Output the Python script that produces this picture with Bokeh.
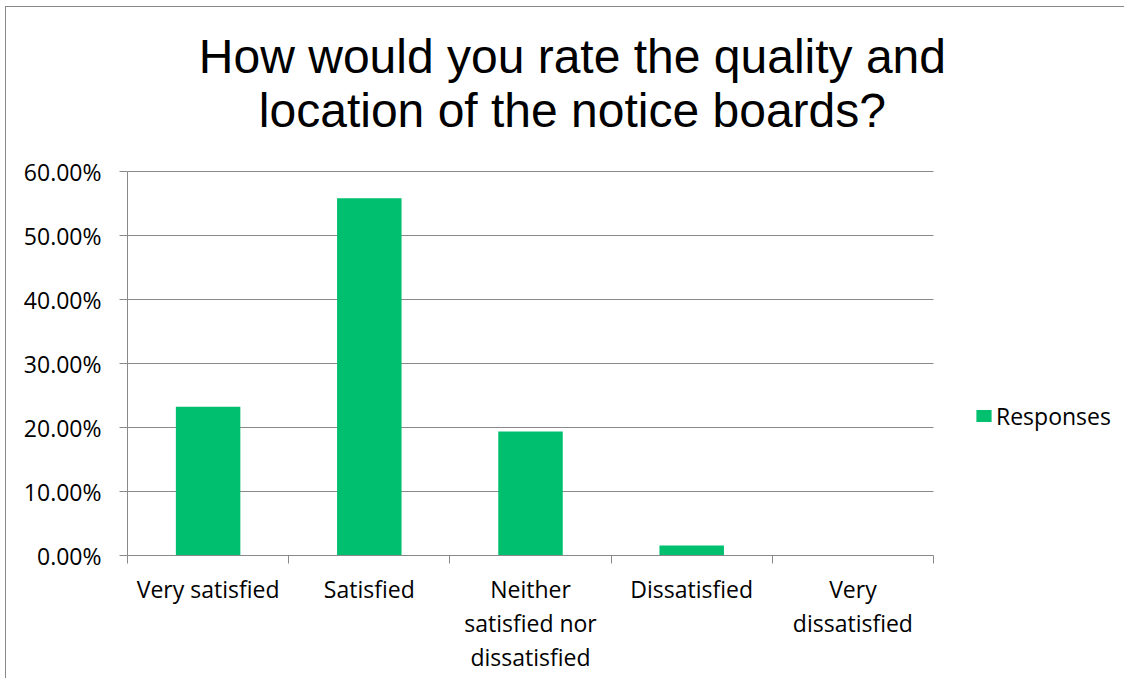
from bokeh.plotting import figure
from bokeh.models import (Range1d, FixedTicker, NumeralTickFormatter,
                          Legend, LegendItem, ColumnDataSource, LinearAxis, Label)
from bokeh.embed import file_html
from bokeh.resources import INLINE

categories = ["Very satisfied", "Satisfied", "Neither satisfied nor dissatisfied",
              "Dissatisfied", "Very dissatisfied"]
# wrapped category labels, one list per text line
label_line1 = ["Very satisfied", "Satisfied", "Neither", "Dissatisfied", "Very"]
label_line2 = ["", "", "satisfied nor", "", "dissatisfied"]
label_line3 = ["", "", "dissatisfied", "", ""]
responses = [0.2326, 0.5581, 0.1938, 0.0155, 0.0]
y_ticks = [0.0, 0.1, 0.2, 0.3, 0.4, 0.5, 0.6]
title_lines = ["How would you rate the quality and", "location of the notice boards?"]
series_name = "Responses"

GREEN = "#00BF6F"
GRAY = "#898989"
FONT = "Open Sans"
FS = "23px"

n = len(categories)
y_max = y_ticks[-1]
centers = [i + 0.5 for i in range(n)]       # category slot centres
bounds = [float(i) for i in range(n + 1)]   # category slot boundaries

# the frame is larger than the chart (0..n, 0..y_max) so that the title and the
# legend can sit inside it; grid and axes are bounded to the chart area
PLOT_W, FRAME_W = 806, 990
PLOT_H, FRAME_H = 384, 548
p = figure(width=1119, height=672, output_backend="svg", toolbar_location=None,
           x_range=Range1d(0, n * FRAME_W / PLOT_W),
           y_range=Range1d(0, y_max * FRAME_H / PLOT_H),
           x_axis_location=None,
           min_border_left=121, min_border_right=8, min_border_top=0,
           min_border_bottom=124)
p.styles = {"margin-left": "6px", "margin-top": "7px", "margin-bottom": "-10px",
            "box-shadow": "-1px -1px 0px 0px #888888"}
p.outline_line_color = None
p.background_fill_color = "white"
p.border_fill_color = "white"

src = ColumnDataSource(dict(x=centers, cat=categories, val=responses))
r = p.vbar(x="x", top="val", width=0.4, source=src, fill_color=GREEN, line_color=None)

# y axis + grid
p.xgrid.grid_line_color = None
p.ygrid.grid_line_color = GRAY
p.ygrid.grid_line_width = 1
p.ygrid.cross_bounds = (0, n)
p.ygrid.ticker = FixedTicker(ticks=y_ticks)
yax = p.yaxis[0]
yax.ticker = FixedTicker(ticks=y_ticks)
yax.bounds = (0, y_max)
yax.formatter = NumeralTickFormatter(format="0.00%")
yax.axis_line_color = GRAY
yax.major_tick_line_color = GRAY
yax.major_tick_out = 8
yax.major_tick_in = 0
yax.minor_tick_line_color = None
yax.major_label_text_font = FONT
yax.major_label_text_font_size = FS
yax.major_label_text_color = "black"
yax.major_label_standoff = 18

# x axis line with ticks at category boundaries (no labels)
bax = LinearAxis(ticker=FixedTicker(ticks=bounds), bounds=(0, n),
                 axis_line_color=GRAY, major_tick_line_color=GRAY,
                 major_tick_out=8, major_tick_in=0, minor_tick_line_color=None,
                 major_label_text_color=None, major_label_text_font_size="1px",
                 major_label_standoff=0)
p.add_layout(bax, "below")

# category labels, one axis per text line
for lines, standoff in ((label_line1, 9), (label_line2, -1), (label_line3, -1)):
    ticks = [c for c, t in zip(centers, lines) if t]
    ax = LinearAxis(ticker=FixedTicker(ticks=ticks),
                    axis_line_color=None, major_tick_line_color=None,
                    minor_tick_line_color=None, major_tick_out=0, major_tick_in=0,
                    major_label_standoff=standoff,
                    major_label_overrides={c: t for c, t in zip(centers, lines) if t},
                    major_label_text_font=FONT, major_label_text_font_size=FS,
                    major_label_text_color="black")
    p.add_layout(ax, "below")

# title, two lines, placed above the chart area
for line, y in zip(title_lines, (0.7802, 0.6946)):
    p.add_layout(Label(x=2.76, y=y, text=line, text_align="center",
                       text_baseline="alphabetic", text_font="Liberation Sans",
                       text_font_size="48px", text_color="black"))

legend = Legend(items=[LegendItem(label=series_name, renderers=[r])],
                location=(847, 123.5), orientation="vertical",
                glyph_width=19, glyph_height=15, label_height=24,
                label_standoff=3, padding=0, margin=0, spacing=0,
                border_line_color=None, background_fill_alpha=0,
                label_text_font=FONT, label_text_font_size=FS,
                label_text_color="black")
p.add_layout(legend, "center")

open("out.html", "w").write(file_html(p, INLINE))
